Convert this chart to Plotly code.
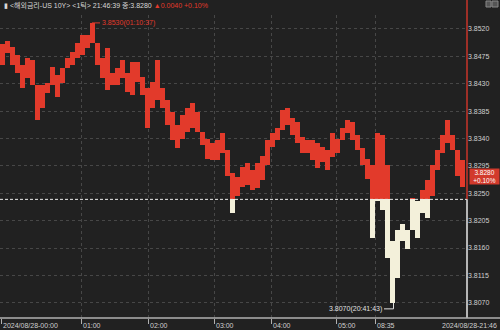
import plotly.graph_objects as go

# ---------------- data ----------------
highs = [3.8495, 3.8500, 3.8490, 3.8477, 3.8461, 3.8472, 3.8469, 3.8411, 3.8428, 3.8431,
         3.8457, 3.8444, 3.8456, 3.8472, 3.8482, 3.8497, 3.8510, 3.8510, 3.8530, 3.8497,
         3.8472, 3.8488, 3.8447, 3.8456, 3.8469, 3.8447, 3.8466, 3.8466, 3.8441, 3.8423,
         3.8433, 3.8469, 3.8423, 3.8403, 3.8383, 3.8362, 3.8378, 3.8390, 3.8398, 3.8383,
         3.8350, 3.8340, 3.8332, 3.8337, 3.8349, 3.8321, 3.8284, 3.8276, 3.8293, 3.8299,
         3.8288, 3.8299, 3.8312, 3.8337, 3.8349, 3.8357, 3.8387, 3.8390, 3.8373, 3.8367,
         3.8342, 3.8337, 3.8337, 3.8332, 3.8326, 3.8321, 3.8349, 3.8340, 3.8357, 3.8370,
         3.8367, 3.8345, 3.8324, 3.8307, 3.8296, 3.8349, 3.8345, 3.8296, 3.8172, 3.8189,
         3.8200, 3.8189, 3.8243, 3.8238, 3.8255, 3.8271, 3.8296, 3.8321, 3.8345, 3.8370,
         3.8345, 3.8321, 3.8304]
lows = [3.8461, 3.8480, 3.8461, 3.8447, 3.8423, 3.8439, 3.8428, 3.8370, 3.8390, 3.8415,
        3.8428, 3.8408, 3.8431, 3.8456, 3.8461, 3.8472, 3.8477, 3.8489, 3.8497, 3.8461,
        3.8439, 3.8419, 3.8428, 3.8428, 3.8439, 3.8416, 3.8411, 3.8433, 3.8411, 3.8358,
        3.8390, 3.8403, 3.8390, 3.8362, 3.8337, 3.8324, 3.8340, 3.8350, 3.8357, 3.8350,
        3.8329, 3.8307, 3.8304, 3.8304, 3.8317, 3.8279, 3.8218, 3.8246, 3.8260, 3.8263,
        3.8255, 3.8258, 3.8271, 3.8296, 3.8326, 3.8337, 3.8354, 3.8362, 3.8345, 3.8332,
        3.8316, 3.8317, 3.8304, 3.8291, 3.8301, 3.8288, 3.8309, 3.8316, 3.8337, 3.8349,
        3.8337, 3.8321, 3.8296, 3.8274, 3.8177, 3.8238, 3.8222, 3.8144, 3.8070, 3.8111,
        3.8172, 3.8159, 3.8205, 3.8177, 3.8217, 3.8209, 3.8246, 3.8288, 3.8316, 3.8332,
        3.8321, 3.8279, 3.8260]

prev_close = 3.8240
last_price = 3.8280
last_change = "+0.10%"
title_text = "▮ <해외금리-US 10Y> <1틱> 21:46:39 종:3.8280"
title_change = "▲0.0040 +0.10%"

y_ticks = [3.8070, 3.8115, 3.8160, 3.8205, 3.8250, 3.8295, 3.8340, 3.8385, 3.8430, 3.8475, 3.8520]
x_tick_pos = [-0.3, 15.7, 29.1, 42.3, 53.7, 66.7, 74.5]
x_tick_text = ["2024/08/28-00:00", "01:00", "02:00", "03:00", "04:00", "05:00", "08:35"]
end_label = "2024/08/28-21:46"

max_idx, max_val, max_label = 18, 3.8530, "3.8530(01:10:37)"
min_idx, min_val, min_label = 78, 3.8070, "3.8070(20:41:43)"

# ---------------- styling ----------------
BG = "#212121"
RED = "#e23a2b"
CREAM = "#f3f0da"
GRID = "#474747"
TXT = "#cfcfcf"
FONT = "Liberation Sans, Arial, Noto Sans CJK KR, sans-serif"
Y_RANGE = [3.8045, 3.8543]
X_RANGE = [-0.5, 92.9]

# drawn span of each column: connect to the previous column so the trace is continuous
n = len(highs)
draw_hi, draw_lo = [], []
for i in range(n):
    h, l = highs[i], lows[i]
    if i > 0:
        if l > highs[i - 1]:
            l = highs[i - 1]
        if h < lows[i - 1]:
            h = lows[i - 1]
    draw_hi.append(h)
    draw_lo.append(l)

xs = list(range(n))
red_base, red_h, cr_base, cr_h = [], [], [], []
for h, l in zip(draw_hi, draw_lo):
    rb, rt = max(l, prev_close), max(h, prev_close)
    cb, ct = min(l, prev_close), min(h, prev_close)
    red_base.append(rb); red_h.append(rt - rb)
    cr_base.append(cb); cr_h.append(ct - cb)

fig = go.Figure()
fig.add_trace(go.Bar(x=xs, y=red_h, base=red_base, width=1.0,
                     marker=dict(color=RED, line=dict(width=0)), hoverinfo="skip"))
fig.add_trace(go.Bar(x=xs, y=cr_h, base=cr_base, width=1.0,
                     marker=dict(color=CREAM, line=dict(width=0)), hoverinfo="skip"))


def yp(v):
    return (v - Y_RANGE[0]) / (Y_RANGE[1] - Y_RANGE[0])


W_PLOT = 467.0
H_PLOT = 303.0
shapes = []
# baseline dashed
shapes.append(dict(type="line", xref="paper", yref="y", x0=0, x1=1, y0=prev_close, y1=prev_close,
                   line=dict(color="#e8e8e8", width=1, dash="3px,2px")))
# right axis line: red above prev close, white below
shapes.append(dict(type="line", xref="paper", yref="paper", x0=1, x1=1, y0=yp(prev_close), y1=1 + 15 / H_PLOT,
                   line=dict(color="#c8342a", width=1.5)))
shapes.append(dict(type="line", xref="paper", yref="paper", x0=1, x1=1, y0=0, y1=yp(prev_close),
                   line=dict(color="#e8e8e8", width=1.5)))
# bottom axis line (full width)
shapes.append(dict(type="line", xref="paper", yref="paper", x0=0, x1=500 / W_PLOT, y0=0, y1=0,
                   line=dict(color="#b0b0b0", width=1.5)))
# max marker
shapes.append(dict(type="line", xref="x", yref="y", x0=max_idx - 0.1, x1=max_idx + 1.5, y0=max_val, y1=max_val,
                   line=dict(color=RED, width=1)))
# min marker
shapes.append(dict(type="line", xref="x", yref="y", x0=min_idx - 1.7, x1=min_idx + 0.2, y0=min_val - 0.0010,
                   y1=min_val - 0.0010, line=dict(color="#e0e0e0", width=1)))
shapes.append(dict(type="line", xref="x", yref="y", x0=min_idx + 0.2, x1=min_idx + 0.2, y0=min_val - 0.0010,
                   y1=min_val, line=dict(color="#e0e0e0", width=1)))
# top-right icons
shapes.append(dict(type="rect", xref="paper", yref="paper", x0=486 / W_PLOT, x1=491 / W_PLOT,
                   y0=1 + 8 / H_PLOT, y1=1 + 14 / H_PLOT, line=dict(color="#888", width=1), fillcolor="#555"))
shapes.append(dict(type="rect", xref="paper", yref="paper", x0=492 / W_PLOT, x1=498 / W_PLOT,
                   y0=1 + 8 / H_PLOT, y1=1 + 14 / H_PLOT, line=dict(color="#888", width=1), fillcolor="#555"))

ann = []
ann.append(dict(xref="paper", yref="paper", x=2 / W_PLOT, y=1 + 9 / H_PLOT, xanchor="left", yanchor="middle",
                showarrow=False,
                text=f'<span style="color:#d8d8d8">{title_text}</span> <span style="color:{RED}">{title_change}</span>',
                font=dict(family=FONT, size=7)))
for p, t in zip(x_tick_pos, x_tick_text):
    ann.append(dict(xref="x", yref="paper", x=p, y=-2 / H_PLOT, xanchor="left", yanchor="top", showarrow=False,
                    text=t, font=dict(family=FONT, size=7, color=TXT)))
ann.append(dict(xref="paper", yref="paper", x=499 / W_PLOT, y=-2 / H_PLOT, xanchor="right", yanchor="top",
                showarrow=False, text=end_label, font=dict(family=FONT, size=7, color=TXT)))
ann.append(dict(xref="x", yref="y", x=max_idx + 1.5, y=max_val, xanchor="left", yanchor="middle", showarrow=False,
                text=max_label, font=dict(family=FONT, size=7, color=RED)))
ann.append(dict(xref="x", yref="y", x=min_idx - 1.7, y=min_val - 0.0010, xanchor="right", yanchor="middle",
                showarrow=False, text=min_label, font=dict(family=FONT, size=7, color="#e0e0e0")))
ann.append(dict(xref="paper", yref="y", x=469 / W_PLOT, y=last_price, xanchor="left", yanchor="middle",
                yshift=-1, showarrow=False, text=f"{last_price:.4f}<br>{last_change}", align="center",
                bgcolor="#d23a2c", width=29, borderpad=0,
                font=dict(family=FONT, size=6.5, color="#ffffff")))

fig.update_layout(
    width=500, height=330, autosize=False,
    margin=dict(l=0, r=33, t=15, b=12, pad=0),
    paper_bgcolor=BG, plot_bgcolor=BG,
    showlegend=False, barmode="overlay", bargap=0,
    shapes=shapes, annotations=ann,
    xaxis=dict(range=X_RANGE, tickvals=x_tick_pos, showticklabels=False, ticks="outside", ticklen=5,
               tickcolor="#b0b0b0", showgrid=True, gridcolor=GRID, griddash="dot", gridwidth=1,
               zeroline=False, showline=False, fixedrange=True),
    yaxis=dict(range=Y_RANGE, side="right", tickvals=y_ticks, tickformat=".4f", showgrid=True,
               gridcolor=GRID, griddash="dot", gridwidth=1, zeroline=False, showline=False, ticks="",
               tickfont=dict(family=FONT, size=7, color=TXT), fixedrange=True),
)

fig.write_html("out.html")
